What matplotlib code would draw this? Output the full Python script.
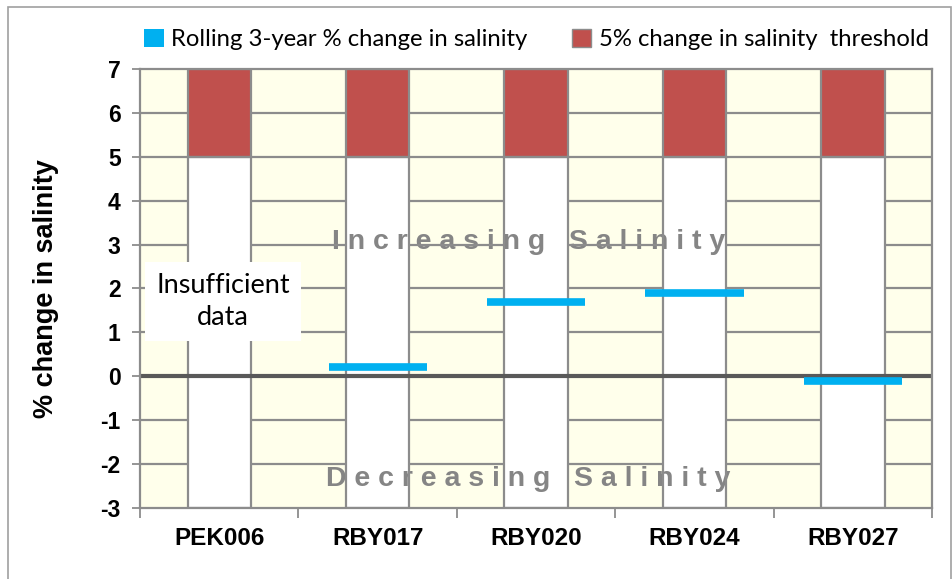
import matplotlib.pyplot as plt
import matplotlib.patches as mpatches
import numpy as np

plt.rcParams['axes.unicode_minus'] = False

# data
sites = ['PEK006', 'RBY017', 'RBY020', 'RBY024', 'RBY027']
rolling_change = [np.nan, 0.2, 1.7, 1.9, -0.1]   # PEK006 has insufficient data
threshold = 5
y_min, y_max = -3, 7

bg_yellow = '#FFFFEB'
grid_grey = '#8C8C8C'
red = '#C0504D'
cyan = '#00B0F0'
bar_w = 0.4

fig = plt.figure(figsize=(9.53, 5.79), dpi=100)
# outer chart frame
fig.patches.append(mpatches.Rectangle((0.008, -0.01), 0.99, 0.998, transform=fig.transFigure,
                                      fill=False, edgecolor='#A0A0A0', lw=1.2))
ax = fig.add_axes([0.147, 0.1226, 0.831, 0.7584])
ax.set_facecolor(bg_yellow)

x = np.arange(len(sites))

# white "no change" columns and red threshold columns (fill only)
ax.bar(x, threshold - y_min, bottom=y_min, width=bar_w, color='white', lw=0, zorder=2)
ax.bar(x, y_max - threshold, bottom=threshold, width=bar_w, color=red, lw=0, zorder=2)

# background words sit on the white columns but under the grid and column edges
ax.text(1.95, 3.05, 'I n c r e a s i n g   S a l i n i t y', ha='center', va='center',
        fontsize=20.5, fontweight='bold', color='#858585', family='Liberation Sans', zorder=2.5)
ax.text(1.95, -2.35, 'D e c r e a s i n g   S a l i n i t y', ha='center', va='center',
        fontsize=20.5, fontweight='bold', color='#858585', family='Liberation Sans', zorder=2.5)

# horizontal grid only in the yellow gaps between columns
gap_left = np.concatenate([[-0.5], x + bar_w / 2])
gap_right = np.concatenate([x - bar_w / 2, [len(sites) - 0.5]])
for yv in range(y_min + 1, y_max):
    ax.hlines(np.full(len(gap_left), yv), gap_left, gap_right, color=grid_grey, lw=1.6, zorder=3)

# column outlines
ax.bar(x, threshold - y_min, bottom=y_min, width=bar_w, fill=False,
       edgecolor=grid_grey, lw=1.6, zorder=3)
ax.bar(x, y_max - threshold, bottom=threshold, width=bar_w, fill=False,
       edgecolor=grid_grey, lw=1.6, zorder=3)

# zero line
ax.axhline(0, color='#595959', lw=3, zorder=4)

# rolling 3-year change markers
ax.hlines(rolling_change, x - 0.31, x + 0.31, color=cyan, lw=5.5, zorder=5)

ax.text(0.024, 1.70, 'Insufficient\ndata', ha='center', va='center', fontsize=19.5,
        family='Lato', linespacing=1.35, zorder=6,
        bbox=dict(facecolor='white', edgecolor='none', boxstyle='square,pad=0.4'))

# axes styling
ax.set_xlim(-0.5, len(sites) - 0.5)
ax.set_ylim(y_min, y_max)
ax.set_yticks(range(y_min, y_max + 1))
ax.set_xticks(np.arange(len(sites) + 1) - 0.5)
ax.set_xticklabels([])
ax.set_xticks(x, minor=True)
ax.set_xticklabels(sites, minor=True, fontsize=17.5, fontweight='bold', family='Liberation Sans')
ax.tick_params(axis='x', which='minor', length=0, pad=14)
ax.tick_params(axis='x', which='major', length=7, width=1.3, color=grid_grey)
ax.tick_params(axis='y', length=6, width=1.3, color=grid_grey, labelsize=16.5, pad=8)
for lab in ax.get_yticklabels():
    lab.set_fontweight('bold')
    lab.set_family('Liberation Sans')
for s in ax.spines.values():
    s.set_color(grid_grey)
    s.set_linewidth(1.6)
    s.set_zorder(6)
ax.set_ylabel('% change in salinity', fontsize=19.5, fontweight='bold',
              family='Liberation Sans', labelpad=30)

# legend
handles = [mpatches.Patch(facecolor=cyan, edgecolor='none',
                          label='Rolling 3-year % change in salinity'),
           mpatches.Patch(facecolor=red, edgecolor=grid_grey,
                          label='5% change in salinity  threshold')]
fig.legend(handles=handles, loc='center', bbox_to_anchor=(0.563, 0.932), ncol=2,
           frameon=False, prop={'family': 'Lato', 'size': 17.2}, handlelength=0.8,
           handleheight=0.8, handletextpad=0.3, columnspacing=1.9)

fig.savefig('out.png', dpi=100)
